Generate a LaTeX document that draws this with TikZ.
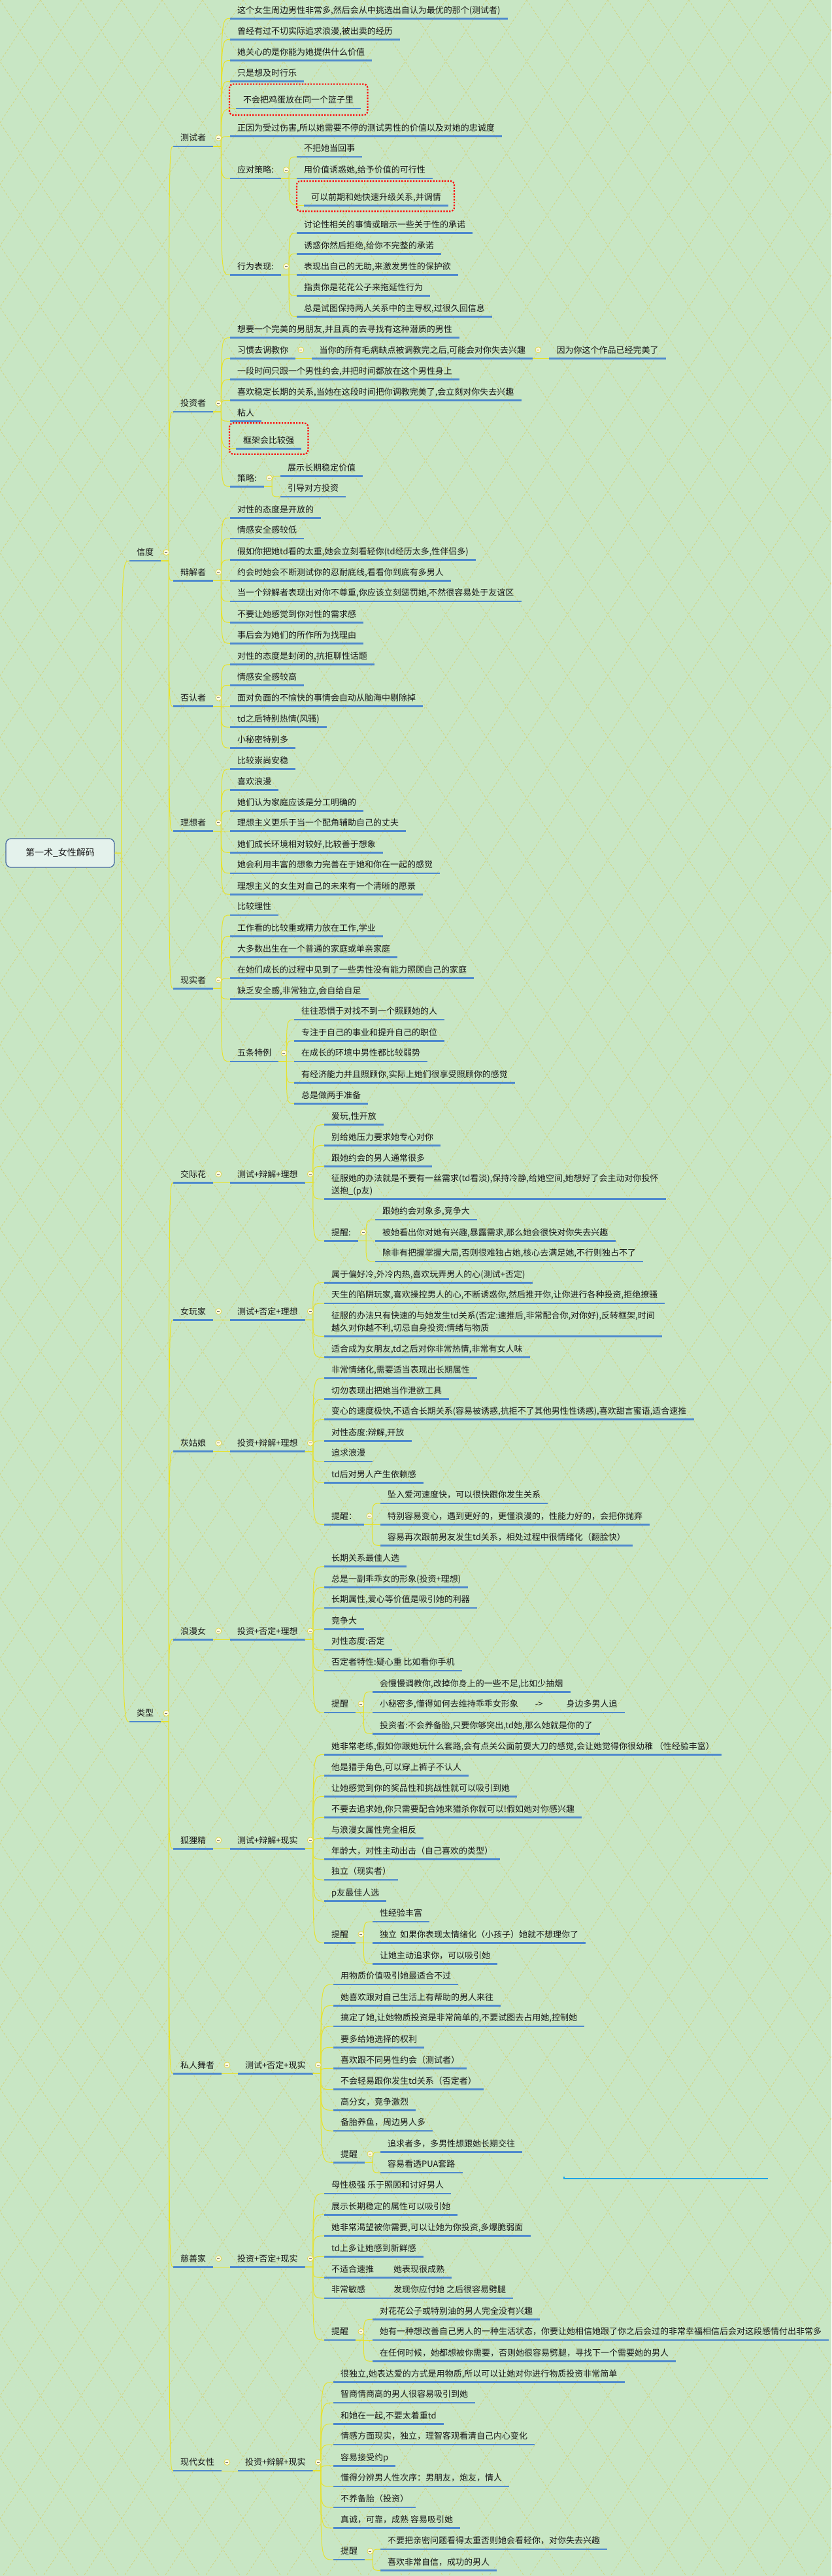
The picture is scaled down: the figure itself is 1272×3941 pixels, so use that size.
\documentclass[tikz,border=0pt]{standalone}
\usepackage{fontspec}
\newfontfamily\cjk{Noto Sans CJK SC}
\usetikzlibrary{calc}
\definecolor{bgc}{RGB}{200,230,196}
\definecolor{patc}{RGB}{208,212,132}
\definecolor{ulc}{RGB}{77,137,206}
\definecolor{cnc}{RGB}{230,226,45}
\definecolor{txc}{RGB}{25,25,25}
\definecolor{circc}{RGB}{222,212,80}
\definecolor{cyc}{RGB}{30,165,230}
\definecolor{rootfill}{RGB}{228,242,236}
\definecolor{rootdraw}{RGB}{70,105,160}
\tikzset{
  topic/.style={anchor=south west, inner xsep=11pt, inner ysep=6.5pt, text height=11.4pt, text depth=1.6pt, text=txc, font=\cjk\fontsize{13}{18.4}\selectfont},
  uline/.style={draw=ulc, line width=2.6pt},
  conn/.style={draw=cnc, line width=1pt},
  patl/.style={draw=patc, line width=0.9pt, dash pattern=on 3pt off 3pt},
  redb/.style={draw=red, line width=2.2pt, dash pattern=on 2.2pt off 2.2pt, rounded corners=6pt},
  foldc/.style={circle, draw=circc, line width=0.8pt, fill={rgb,255:red,250;green,250;blue,222}, minimum size=9pt, inner sep=0pt,
     path picture={\draw[black!55, line width=0.7pt] ([xshift=-2pt]path picture bounding box.center) -- ([xshift=2pt]path picture bounding box.center);}},
  rootbox/.style={draw=rootdraw, fill=rootfill, rounded corners=8pt, line width=1.3pt, minimum width=166pt, minimum height=44pt, text=txc, font=\cjk\fontsize{14}{16}\selectfont}
}
\newcommand\tpc[5][]{\node[topic,#1] (#2) at (#3,#4) {#5}; \draw[uline] (#2.south west) -- (#2.south east);}
\newcommand\lnk[2]{\coordinate (tmpj) at ([xshift=12pt]#1.south east); \draw[conn] (#1.south east) -- (tmpj) .. controls (tmpj |- #2.south west) .. (#2.south west);}
\newcommand\kids[2]{\foreach \q in {#2} {\lnk{#1}{\q}}}
\newcommand\fold[1]{\node[foldc] at ([shift={(8,-13)}]#1.south east) {};}
\begin{document}
\begin{tikzpicture}[x=1pt,y=-1pt]
\useasboundingbox (0,0) rectangle (1272,3941);
\fill[bgc] (0,0) rectangle (1272,3941);
\begin{scope}
\clip (0,0) rectangle (1272,3941);
\foreach \k in {-43,...,21} \draw[patl] (\k*62,0) -- ++(2600,3941);
\foreach \k in {0,...,63} \draw[patl] (\k*62,0) -- ++(-2600,3941);
\end{scope}

% root and level 1
\node[rootbox] (root) at (92,1305) {第一术\_女性解码};
\tpc{xd}{198}{858}{信度}
\tpc{lx}{198}{2634}{类型}

% level 2 under 信度
\tpc{csz}{265}{224}{测试者}
\tpc{tzz}{265}{630}{投资者}
\tpc{bjz}{265}{888.3}{辩解者}
\tpc{frz}{265}{1080.7}{否认者}
\tpc{lxz}{265}{1271.7}{理想者}
\tpc{xsz}{265}{1512.3}{现实者}

% 测试者
\tpc{a1}{352}{28.3}{这个女生周边男性非常多,然后会从中挑选出自认为最优的那个(测试者)}
\tpc{a2}{352}{60.3}{曾经有过不切实际追求浪漫,被出卖的经历}
\tpc{a3}{352}{92.5}{她关心的是你能为她提供什么价值}
\tpc{a4}{352}{124.3}{只是想及时行乐}
\tpc{a5}{361}{166}{不会把鸡蛋放在同一个篮子里}
\tpc{a6}{352}{208.7}{正因为受过伤害,所以她需要不停的测试男性的价值以及对她的忠诚度}
\tpc{a7}{352}{273}{应对策略:}
\tpc{a71}{454}{240}{不把她当回事}
\tpc{a72}{454}{273}{用价值诱惑她,给予价值的可行性}
\tpc{a73}{465}{314.3}{可以前期和她快速升级关系,并调情}
\tpc{a8}{352}{420.7}{行为表现:}
\tpc{a81}{454}{356.7}{讨论性相关的事情或暗示一些关于性的承诺}
\tpc{a82}{454}{388.3}{诱惑你然后拒绝,给你不完整的承诺}
\tpc{a83}{454}{420.7}{表现出自己的无助,来激发男性的保护欲}
\tpc{a84}{454}{452.3}{指责你是花花公子来拖延性行为}
\tpc{a85}{454}{484.3}{总是试图保持两人关系中的主导权,过很久回信息}

% 投资者
\tpc{b1}{352}{516.7}{想要一个完美的男朋友,并且真的去寻找有这种潜质的男性}
\tpc{b2}{352}{548.3}{习惯去调教你}
\node[topic] (b21) at ([xshift=25pt]b2.south east) {当你的所有毛病缺点被调教完之后,可能会对你失去兴趣};
\draw[uline] (b21.south west) -- (b21.south east);
\node[topic] (b211) at ([xshift=25pt]b21.south east) {因为你这个作品已经完美了};
\draw[uline] (b211.south west) -- (b211.south east);
\tpc{b3}{352}{580.7}{一段时间只跟一个男性约会,并把时间都放在这个男性身上}
\tpc{b4}{352}{612.3}{喜欢稳定长期的关系,当她在这段时间把你调教完美了,会立刻对你失去兴趣}
\tpc{b5}{352}{644.3}{粘人}
\tpc{b6}{361}{686.7}{框架会比较强}
\tpc{b7}{352}{744.3}{策略:}
\tpc{b71}{429}{728.3}{展示长期稳定价值}
\tpc{b72}{429}{760}{引导对方投资}

% 辩解者
\tpc{c1}{352}{792.3}{对性的态度是开放的}
\tpc{c2}{352}{824}{情感安全感较低}
\tpc{c3}{352}{856.7}{假如你把她td看的太重,她会立刻看轻你(td经历太多,性伴侣多)}
\tpc{c4}{352}{888.3}{约会时她会不断测试你的忍耐底线,看看你到底有多男人}
\tpc{c5}{352}{920}{当一个辩解者表现出对你不尊重,你应该立刻惩罚她,不然很容易处于友谊区}
\tpc{c6}{352}{952.3}{不要让她感觉到你对性的需求感}
\tpc{c7}{352}{984.3}{事后会为她们的所作所为找理由}

% 否认者
\tpc{d1}{352}{1016.7}{对性的态度是封闭的,抗拒聊性话题}
\tpc{d2}{352}{1048.3}{情感安全感较高}
\tpc{d3}{352}{1080.7}{面对负面的不愉快的事情会自动从脑海中剔除掉}
\tpc{d4}{352}{1112.3}{td之后特别热情(风骚)}
\tpc{d5}{352}{1144.3}{小秘密特别多}

% 理想者
\tpc{e1}{352}{1176.7}{比较崇尚安稳}
\tpc{e2}{352}{1208.3}{喜欢浪漫}
\tpc{e3}{352}{1240.7}{她们认为家庭应该是分工明确的}
\tpc{e4}{352}{1271.7}{理想主义更乐于当一个配角辅助自己的丈夫}
\tpc{e5}{352}{1304.3}{她们成长环境相对较好,比较善于想象}
\tpc{e6}{352}{1336}{她会利用丰富的想象力完善在于她和你在一起的感觉}
\tpc{e7}{352}{1368.3}{理想主义的女生对自己的未来有一个清晰的愿景}

% 现实者
\tpc{f1}{352}{1400}{比较理性}
\tpc{f2}{352}{1432.3}{工作看的比较重或精力放在工作,学业}
\tpc{f3}{352}{1464.3}{大多数出生在一个普通的家庭或单亲家庭}
\tpc{f4}{352}{1496.7}{在她们成长的过程中见到了一些男性没有能力照顾自己的家庭}
\tpc{f5}{352}{1528.3}{缺乏安全感,非常独立,会自给自足}
\tpc{f6}{352}{1624}{五条特例}
\tpc{f61}{450}{1560}{往往恐惧于对找不到一个照顾她的人}
\tpc{f62}{450}{1592.3}{专注于自己的事业和提升自己的职位}
\tpc{f63}{450}{1624}{在成长的环境中男性都比较弱势}
\tpc{f64}{450}{1656.7}{有经济能力并且照顾你,实际上她们很享受照顾你的感觉}
\tpc{f65}{450}{1688.3}{总是做两手准备}

% 类型: 交际花
\tpc{g}{265}{1809.3}{交际花}
\tpc{g0}{352}{1809.3}{测试+辩解+理想}
\tpc{g1}{496}{1720.7}{爱玩,性开放}
\tpc{g2}{496}{1752.3}{别给她压力要求她专心对你}
\tpc{g3}{496}{1784.3}{跟她约会的男人通常很多}
\tpc[text height=29.8pt]{g4}{496}{1834.3}{\vbox{\hbox{征服她的办法就是不要有一丝需求(td看淡),保持冷静,给她空间,她想好了会主动对你投怀}\hbox{送抱\_(p友)}}}
\tpc{g5}{496}{1898.3}{提醒:}
\tpc{g51}{574}{1866}{跟她约会对象多,竞争大}
\tpc{g52}{574}{1898.3}{被她看出你对她有兴趣,暴露需求,那么她会很快对你失去兴趣}
\tpc{g53}{574}{1930}{除非有把握掌握大局,否则很难独占她,核心去满足她,不行则独占不了}

% 女玩家
\tpc{h}{265}{2019.3}{女玩家}
\tpc{h0}{352}{2019.3}{测试+否定+理想}
\tpc{h1}{496}{1962.3}{属于偏好冷,外冷内热,喜欢玩弄男人的心(测试+否定)}
\tpc{h2}{496}{1994}{天生的陷阱玩家,喜欢操控男人的心,不断诱惑你,然后推开你,让你进行各种投资,拒绝撩骚}
\tpc[text height=29.8pt]{h3}{496}{2044.3}{\vbox{\hbox{征服的办法只有快速的与她发生td关系(否定:速推后,非常配合你,对你好),反转框架,时间}\hbox{越久对你越不利,切忌自身投资:情绪与物质}}}
\tpc{h4}{496}{2076.7}{适合成为女朋友,td之后对你非常热情,非常有女人味}

% 灰姑娘
\tpc{i}{265}{2220.7}{灰姑娘}
\tpc{i0}{352}{2220.7}{投资+辩解+理想}
\tpc{i1}{496}{2108.3}{非常情绪化,需要适当表现出长期属性}
\tpc{i2}{496}{2140.7}{切勿表现出把她当作泄欲工具}
\tpc{i3}{496}{2171.7}{变心的速度极快,不适合长期关系(容易被诱惑,抗拒不了其他男性性诱惑),喜欢甜言蜜语,适合速推}
\tpc{i4}{496}{2204.3}{对性态度:辩解,开放}
\tpc{i5}{496}{2236}{追求浪漫}
\tpc{i6}{496}{2268.3}{td后对男人产生依赖感}
\tpc{i7}{496}{2332.3}{提醒：}
\tpc{i71}{582}{2300}{坠入爱河速度快，可以很快跟你发生关系}
\tpc{i72}{582}{2332.3}{特别容易变心，遇到更好的，更懂浪漫的，性能力好的，会把你抛弃}
\tpc{i73}{582}{2364.3}{容易再次跟前男友发生td关系，相处过程中很情绪化（翻脸快）}

% 浪漫女
\tpc{j}{265}{2508.3}{浪漫女}
\tpc{j0}{352}{2508.3}{投资+否定+理想}
\tpc{j1}{496}{2396.7}{长期关系最佳人选}
\tpc{j2}{496}{2428.3}{总是一副乖乖女的形象(投资+理想)}
\tpc{j3}{496}{2460}{长期属性,爱心等价值是吸引她的利器}
\tpc{j4}{496}{2492.3}{竞争大}
\tpc{j5}{496}{2524}{对性态度:否定}
\tpc{j6}{496}{2556}{否定者特性:疑心重 比如看你手机}
\tpc{j7}{496}{2620}{提醒}
\tpc{j71}{570}{2588.3}{会慢慢调教你,改掉你身上的一些不足,比如少抽烟}
\tpc{j72}{570}{2620}{小秘密多,懂得如何去维持乖乖女形象\hspace{26pt}->\hspace{36pt}身边多男人追}
\tpc{j73}{570}{2652.3}{投资者:不会养备胎,只要你够突出,td她,那么她就是你的了}

% 狐狸精
\tpc{k}{265}{2828.3}{狐狸精}
\tpc{k0}{352}{2828.3}{测试+辩解+现实}
\tpc{k1}{496}{2684.3}{她非常老练,假如你跟她玩什么套路,会有点关公面前耍大刀的感觉,会让她觉得你很幼稚 （性经验丰富）}
\tpc{k2}{496}{2716.7}{他是猎手角色,可以穿上裤子不认人}
\tpc{k3}{496}{2748.3}{让她感觉到你的奖品性和挑战性就可以吸引到她}
\tpc{k4}{496}{2780.3}{不要去追求她,你只需要配合她来猎杀你就可以!假如她对你感兴趣}
\tpc{k5}{496}{2812.3}{与浪漫女属性完全相反}
\tpc{k6}{496}{2844.3}{年龄大，对性主动出击（自己喜欢的类型）}
\tpc{k7}{496}{2876}{独立（现实者）}
\tpc{k8}{496}{2908.3}{p友最佳人选}
\tpc{k9}{496}{2972.3}{提醒}
\tpc{k91}{570}{2940}{性经验丰富}
\tpc{k92}{570}{2972.3}{独立\hspace{5pt}如果你表现太情绪化（小孩子）她就不想理你了}
\tpc{k93}{570}{3004.3}{让她主动追求你，可以吸引她}

% 私人舞者
\tpc{l}{265}{3172.3}{私人舞者}
\tpc{l0}{364}{3172.3}{测试+否定+现实}
\tpc{l1}{510}{3036}{用物质价值吸引她最适合不过}
\tpc{l2}{510}{3068.3}{她喜欢跟对自己生活上有帮助的男人来往}
\tpc{l3}{510}{3100}{搞定了她,让她物质投资是非常简单的,不要试图去占用她,控制她}
\tpc{l4}{510}{3132.3}{要多给她选择的权利}
\tpc{l5}{510}{3164.3}{喜欢跟不同男性约会（测试者）}
\tpc{l6}{510}{3196.7}{不会轻易跟你发生td关系（否定者）}
\tpc{l7}{510}{3228.3}{高分女，竞争激烈}
\tpc{l8}{510}{3260}{备胎养鱼，周边男人多}
\tpc{l9}{510}{3308.3}{提醒}
\tpc{l91}{582}{3292.3}{追求者多，多男性想跟她长期交往}
\tpc{l92}{582}{3324}{容易看透PUA套路}

% 慈善家
\tpc{m}{265}{3468.3}{慈善家}
\tpc{m0}{352}{3468.3}{投资+否定+现实}
\tpc{m1}{496}{3356}{母性极强 乐于照顾和讨好男人}
\tpc{m2}{496}{3388.3}{展示长期稳定的属性可以吸引她}
\tpc{m3}{496}{3420.7}{她非常渴望被你需要,可以让她为你投资,多爆脆弱面}
\tpc{m4}{496}{3452.3}{td上多让她感到新鲜感}
\tpc{m5}{496}{3484.3}{不适合速推\hspace{30pt}她表现很成熟}
\tpc{m6}{496}{3516}{非常敏感\hspace{43pt}发现你应付她 之后很容易劈腿}
\tpc{m7}{496}{3580}{提醒}
\tpc{m71}{570}{3548.3}{对花花公子或特别油的男人完全没有兴趣}
\tpc{m72}{570}{3580}{她有一种想改善自己男人的一种生活状态，你要让她相信她跟了你之后会过的非常幸福相信后会对这段感情付出非常多}
\tpc{m73}{570}{3612.3}{在任何时候，她都想被你需要，否则她很容易劈腿，寻找下一个需要她的男人}

% 现代女性
\tpc{n}{265}{3780}{现代女性}
\tpc{n0}{364}{3780}{投资+辩解+现实}
\tpc{n1}{510}{3644.3}{很独立,她表达爱的方式是用物质,所以可以让她对你进行物质投资非常简单}
\tpc{n2}{510}{3676}{智商情商高的男人很容易吸引到她}
\tpc{n3}{510}{3708.3}{和她在一起,不要太着重td}
\tpc{n4}{510}{3740}{情感方面现实，独立，理智客观看清自己内心变化}
\tpc{n5}{510}{3772.3}{容易接受约p}
\tpc{n6}{510}{3804}{懂得分辨男人性次序：男朋友，炮友，情人}
\tpc{n7}{510}{3836}{不养备胎（投资）}
\tpc{n8}{510}{3867.7}{真诚，可靠，成熟 容易吸引她}
\tpc{n9}{510}{3916}{提醒}
\tpc{n91}{582}{3900}{不要把亲密问题看得太重否则她会看轻你，对你失去兴趣}
\tpc{n92}{582}{3932.3}{喜欢非常自信，成功的男人}

% red dotted highlight boxes
\draw[redb] ([shift={(-10,10)}]a5.south west) rectangle ([shift={(10,-11)}]a5.north east);
\draw[redb] ([shift={(-11,9)}]a73.south west) rectangle ([shift={(9,-11)}]a73.north east);
\draw[redb] ([shift={(-10,8)}]b6.south west) rectangle ([shift={(10,-13)}]b6.north east);

% stray line
\draw[cyc, line width=1.2pt] (863,3330) -- (863,3333) -- (1175,3333);

% connectors
\coordinate (rj) at ([xshift=10pt]root.east);
\draw[conn] (root.east) -- (rj) .. controls (rj |- xd.south west) .. (xd.south west);
\draw[conn] (root.east) -- (rj) .. controls (rj |- lx.south west) .. (lx.south west);
\kids{xd}{csz,tzz,bjz,frz,lxz,xsz}
\kids{lx}{g,h,i,j,k,l,m,n}
\kids{csz}{a1,a2,a3,a4,a5,a6,a7,a8}
\kids{a7}{a71,a72,a73}
\kids{a8}{a81,a82,a83,a84,a85}
\kids{tzz}{b1,b2,b3,b4,b5,b6,b7}
\lnk{b2}{b21}
\lnk{b21}{b211}
\kids{b7}{b71,b72}
\kids{bjz}{c1,c2,c3,c4,c5,c6,c7}
\kids{frz}{d1,d2,d3,d4,d5}
\kids{lxz}{e1,e2,e3,e4,e5,e6,e7}
\kids{xsz}{f1,f2,f3,f4,f5,f6}
\kids{f6}{f61,f62,f63,f64,f65}
\lnk{g}{g0}
\kids{g0}{g1,g2,g3,g4,g5}
\kids{g5}{g51,g52,g53}
\lnk{h}{h0}
\kids{h0}{h1,h2,h3,h4}
\lnk{i}{i0}
\kids{i0}{i1,i2,i3,i4,i5,i6,i7}
\kids{i7}{i71,i72,i73}
\lnk{j}{j0}
\kids{j0}{j1,j2,j3,j4,j5,j6,j7}
\kids{j7}{j71,j72,j73}
\lnk{k}{k0}
\kids{k0}{k1,k2,k3,k4,k5,k6,k7,k8,k9}
\kids{k9}{k91,k92,k93}
\lnk{l}{l0}
\kids{l0}{l1,l2,l3,l4,l5,l6,l7,l8,l9}
\kids{l9}{l91,l92}
\lnk{m}{m0}
\kids{m0}{m1,m2,m3,m4,m5,m6,m7}
\kids{m7}{m71,m72,m73}
\lnk{n}{n0}
\kids{n0}{n1,n2,n3,n4,n5,n6,n7,n8,n9}
\kids{n9}{n91,n92}

% fold buttons
\foreach \q in {xd,lx,csz,a7,a8,tzz,b2,b21,b7,bjz,frz,lxz,xsz,f6,g,g0,g5,h,h0,i,i0,i7,j,j0,j7,k,k0,k9,l,l0,l9,m,m0,m7,n,n0,n9} {\fold{\q}}
\end{tikzpicture}
\end{document}
